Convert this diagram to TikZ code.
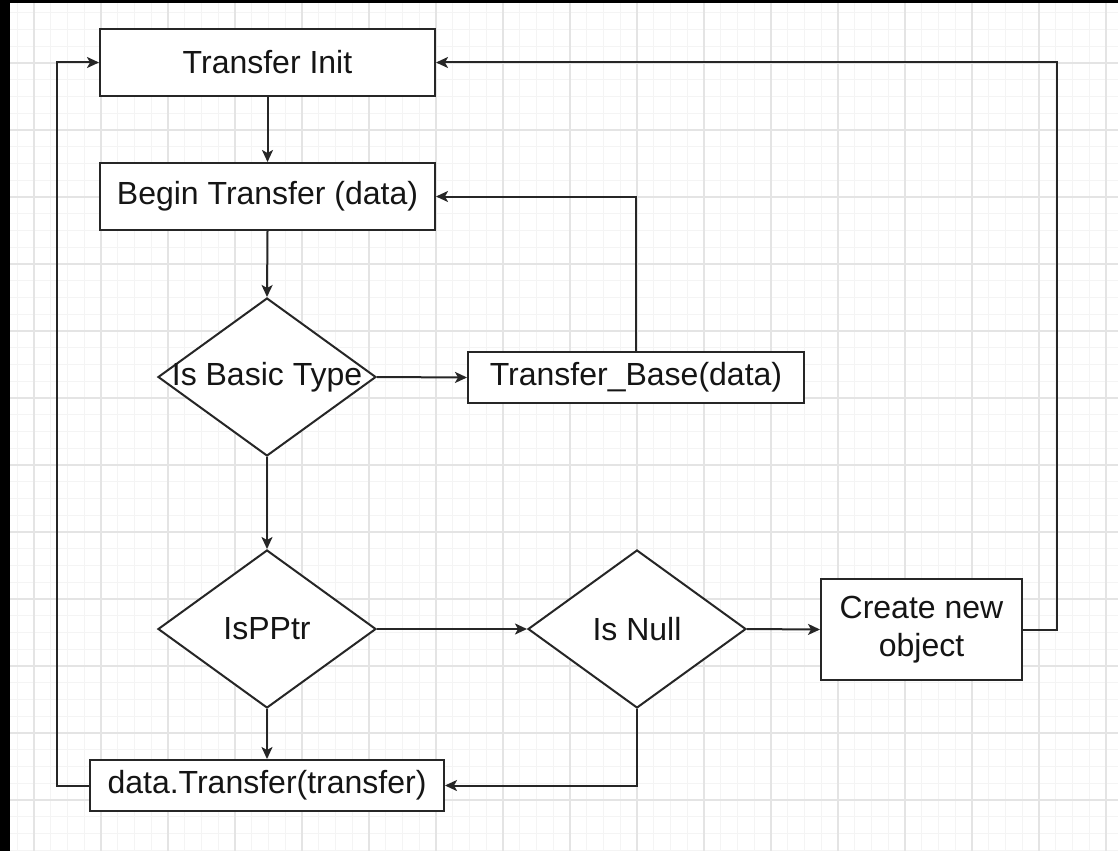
\documentclass[tikz,border=0pt]{standalone}
\usepackage{fontspec}
\setmainfont{Liberation Sans}
\usetikzlibrary{shapes.geometric,arrows.meta}
\definecolor{linec}{HTML}{262626}
\definecolor{gridminor}{HTML}{F4F4F4}
\definecolor{gridmajor}{HTML}{E4E4E4}
\definecolor{txt}{HTML}{151515}
\begin{document}
\begin{tikzpicture}[x=1pt,y=-1pt,
  box/.style={draw=linec, line width=2pt, fill=white, rectangle, inner sep=0pt,
    text=txt, font=\fontsize{32}{38}\selectfont, align=center},
  dia/.style={draw=linec, line width=2pt, fill=white, diamond, inner sep=0pt,
    minimum width=218pt, minimum height=158pt, text=txt, font=\fontsize{32}{38}\selectfont},
  conn/.style={draw=linec, line width=2pt, -{Stealth[length=12pt,width=11pt,inset=3pt]}},
  minorline/.style={draw=gridminor, line width=1pt},
  majorline/.style={draw=gridmajor, line width=1.3pt}]
\useasboundingbox (0,0) rectangle (1118,851);
\fill[white] (0,0) rectangle (1118,851);
% grid
\foreach \k in {-2,...,65} {\draw[minorline] ({34+16.75*\k},0) -- ({34+16.75*\k},851);}
\foreach \k in {-3,...,47} {\draw[minorline] (0,{63+16.75*\k}) -- (1118,{63+16.75*\k});}
\foreach \k in {0,...,16} {\draw[majorline] ({34+67*\k},0) -- ({34+67*\k},851);}
\foreach \k in {0,...,11} {\draw[majorline] (0,{63+67*\k}) -- (1118,{63+67*\k});}
% frame
\fill[black] (0,0) rectangle (10,851);
\fill[black] (0,0) rectangle (1118,3);
% nodes
\node[box, minimum width=335pt, minimum height=67pt] (init) at (267.5,62.5) {Transfer Init};
\node[box, minimum width=335pt, minimum height=67pt] (begin) at (267.5,196.5) {Begin Transfer (data)};
\node[dia] (basic) at (267,377) {\makebox[0pt]{Is Basic Type}};
\node[box, minimum width=336pt, minimum height=51pt] (tbase) at (636,377.5) {Transfer\_Base(data)};
\node[dia] (ptr) at (267,629) {\makebox[0pt]{IsPPtr}};
\node[dia] (null) at (637,629) {\makebox[0pt]{Is Null}};
\node[box, minimum width=201pt, minimum height=101pt] (create) at (921.5,629.5) {Create new\\object};
\node[box, minimum width=354pt, minimum height=51pt] (data) at (267,785.5) {data.Transfer(transfer)};
% connectors
\draw[conn] (init.south) -- (begin.north);
\draw[conn] (begin.south) -- (basic.north);
\draw[conn] (basic.east) -- (tbase.west);
\draw[conn] (tbase.north) |- (begin.east);
\draw[conn] (basic.south) -- (ptr.north);
\draw[conn] (ptr.east) -- (null.west);
\draw[conn] (null.east) -- (create.west);
\draw[conn] (create.east) -- ++(34,0) |- (init.east);
\draw[conn] (ptr.south) -- (data.north);
\draw[conn] (null.south) |- (data.east);
\draw[conn] (data.west) -- ++(-32,0) |- (init.west);
\end{tikzpicture}
\end{document}
